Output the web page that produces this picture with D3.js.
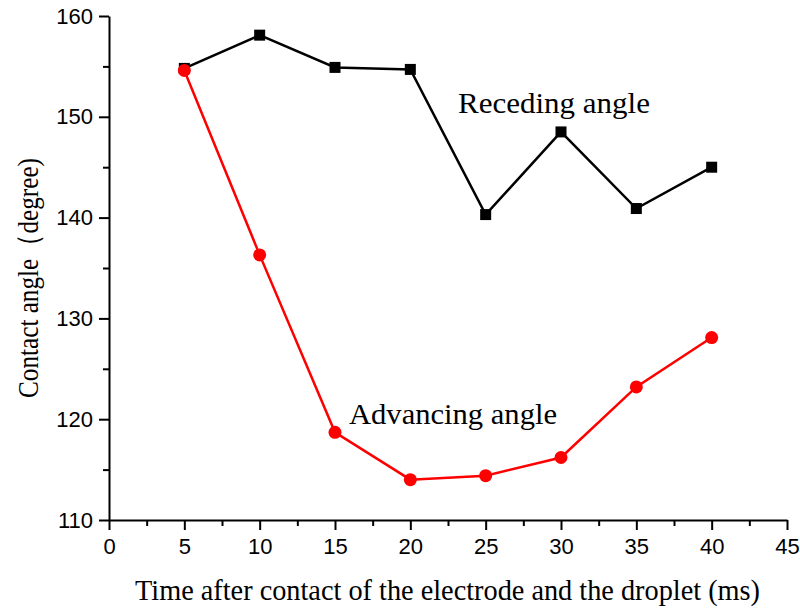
<!DOCTYPE html>
<html>
<head>
<meta charset="utf-8">
<script src="https://cdn.jsdelivr.net/npm/d3@7"></script>
<style>
  body { margin: 0; background: #fff; }
  svg { display: block; }
</style>
</head>
<body>
<script>
const times = [5, 10, 15, 20, 25, 30, 35, 40];
const receding = [154.8, 158.1, 154.9, 154.7, 140.3, 148.5, 140.9, 145.0];
const advancing = [154.6, 136.3, 118.7, 114.0, 114.4, 116.2, 123.2, 128.1];
const xTicks = [0, 5, 10, 15, 20, 25, 30, 35, 40, 45];
const yTicks = [110, 120, 130, 140, 150, 160];

const width = 800;
const height = 611;

const svg = d3.select("body").append("svg")
  .attr("width", width)
  .attr("height", height);

const x = d3.scaleLinear().domain([0, 45]).range([109, 787]);
const y = d3.scaleLinear().domain([110, 160]).range([520, 16]);

const tickFont = "'Liberation Sans', Arial, sans-serif";
const serif = "'Liberation Serif', 'Times New Roman', serif";

// minor ticks
svg.append("g")
  .attr("transform", `translate(0,${y(110)})`)
  .call(d3.axisBottom(x).tickValues(d3.range(2.5, 45, 5)).tickSize(6).tickFormat(""))
  .call(g => g.select(".domain").remove())
  .selectAll("line").attr("stroke-width", 2);

svg.append("g")
  .attr("transform", `translate(${x(0)},0)`)
  .call(d3.axisLeft(y).tickValues(d3.range(115, 160, 10)).tickSize(6).tickFormat(""))
  .call(g => g.select(".domain").remove())
  .selectAll("line").attr("stroke-width", 2);

const xAxis = svg.append("g")
  .attr("transform", `translate(0,${y(110)})`)
  .call(d3.axisBottom(x).tickValues(xTicks).tickSize(10).tickSizeOuter(0).tickPadding(8));

const yAxis = svg.append("g")
  .attr("transform", `translate(${x(0)},0)`)
  .call(d3.axisLeft(y).tickValues(yTicks).tickSize(10).tickSizeOuter(0).tickPadding(6));

[xAxis, yAxis].forEach(a => {
  a.select(".domain").attr("stroke-width", 2);
  a.selectAll(".tick line").attr("stroke-width", 2);
  a.selectAll("text")
    .attr("font-family", tickFont)
    .attr("font-size", 22)
    .attr("fill", "#000");
});

const line = d3.line()
  .x((d, i) => x(times[i]))
  .y(d => y(d));

svg.append("path")
  .datum(receding)
  .attr("d", line)
  .attr("fill", "none")
  .attr("stroke", "#000")
  .attr("stroke-width", 2.5);

svg.append("path")
  .datum(advancing)
  .attr("d", line)
  .attr("fill", "none")
  .attr("stroke", "#ff0000")
  .attr("stroke-width", 2.5);

svg.append("g")
  .selectAll("rect")
  .data(receding)
  .join("rect")
  .attr("x", (d, i) => x(times[i]) - 5.5)
  .attr("y", d => y(d) - 5.5)
  .attr("width", 11)
  .attr("height", 11)
  .attr("fill", "#000");

svg.append("g")
  .selectAll("circle")
  .data(advancing)
  .join("circle")
  .attr("cx", (d, i) => x(times[i]))
  .attr("cy", d => y(d))
  .attr("r", 6.5)
  .attr("fill", "#ff0000");

svg.append("text")
  .attr("x", 458)
  .attr("y", 113)
  .attr("font-family", serif)
  .attr("font-size", 30)
  .attr("textLength", 192)
  .attr("lengthAdjust", "spacingAndGlyphs")
  .text("Receding angle");

svg.append("text")
  .attr("x", 349)
  .attr("y", 424)
  .attr("font-family", serif)
  .attr("font-size", 30)
  .attr("textLength", 208)
  .attr("lengthAdjust", "spacingAndGlyphs")
  .text("Advancing angle");

svg.append("text")
  .attr("x", 135)
  .attr("y", 600)
  .attr("font-family", serif)
  .attr("font-size", 30)
  .attr("textLength", 625)
  .attr("lengthAdjust", "spacingAndGlyphs")
  .text("Time after contact of the electrode and the droplet (ms)");

svg.append("text")
  .attr("transform", `translate(38,398) rotate(-90)`)
  .attr("font-family", serif)
  .attr("font-size", 30)
  .attr("textLength", 240)
  .attr("lengthAdjust", "spacingAndGlyphs")
  .text("Contact angle\uff08degree)");
</script>
</body>
</html>
